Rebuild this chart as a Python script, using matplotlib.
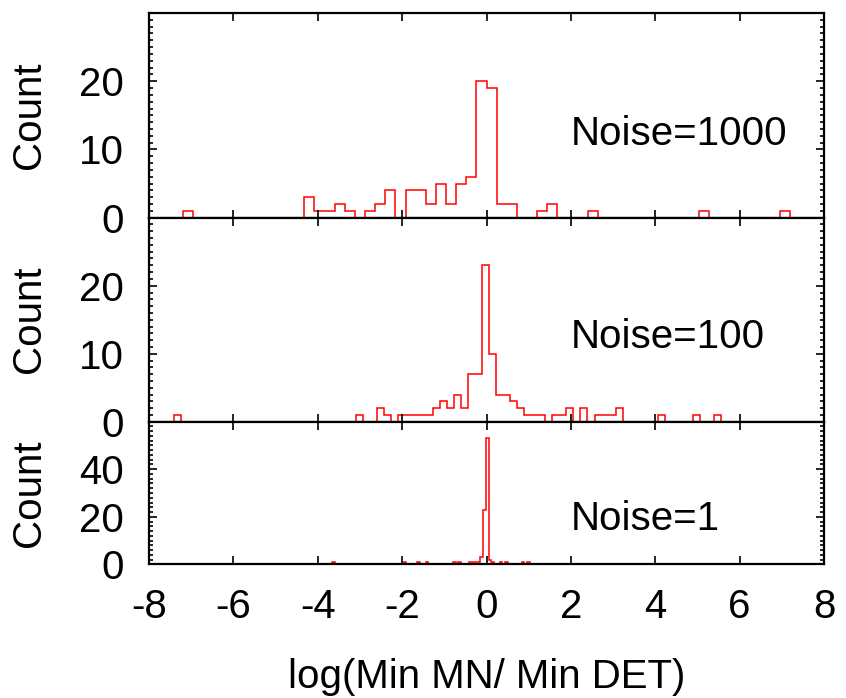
import numpy as np
import matplotlib
matplotlib.use("Agg")
import matplotlib.pyplot as plt

plt.rcParams['font.family'] = ['Liberation Sans', 'DejaVu Sans']
plt.rcParams['axes.unicode_minus'] = False

# ---- data: bin left edges and counts (non-empty bins) ----
# Noise = 1000 (bin width 0.24)
top_left = [-7.20, -4.32, -4.08, -3.84, -3.60, -3.36, -2.88, -2.64, -2.40, -1.92,
            -1.68, -1.44, -1.20, -0.96, -0.72, -0.48, -0.24, 0.00, 0.24, 0.48,
            1.20, 1.44, 2.40, 5.04, 6.96]
top_counts = [1, 3, 1, 1, 2, 1, 1, 2, 4, 4,
              4, 2, 5, 2, 5, 6, 20, 19, 2, 2,
              1, 2, 1, 1, 1]
top_width = 0.24
top_edges_range = (-7.20, 7.20)

# Noise = 100 (bin width 0.166)
mid_left = [-7.400, -3.084, -2.586, -2.420, -2.088, -1.922, -1.756, -1.590, -1.424,
            -1.258, -1.092, -0.926, -0.760, -0.594, -0.428, -0.262, -0.096, 0.070,
            0.236, 0.402, 0.568, 0.734, 0.900, 1.066, 1.232, 1.564, 1.730, 1.896,
            2.228, 2.560, 2.726, 2.892, 3.058, 4.054, 4.884, 5.382]
mid_counts = [1, 1, 2, 1, 1, 1, 1, 1, 1,
              2, 3, 2, 4, 2, 7, 7, 23, 10,
              4, 4, 3, 2, 1, 1, 1, 1, 1, 2,
              2, 1, 1, 1, 2, 1, 1, 1]
mid_width = 0.166
mid_edges_range = (-7.400, 5.548)

# Noise = 1 (bin width 0.065)
bot_left = [-3.655, -1.965, -1.640, -1.445, -0.795, -0.665, -0.405, -0.340, -0.275,
            -0.210, -0.145, -0.080, -0.015, 0.050, 0.115, 0.310, 0.440, 0.830, 0.960]
bot_counts = [1, 1, 1, 1, 1, 1, 1, 1, 1,
              1, 3, 23, 53, 2, 1, 1, 1, 1, 1]
bot_width = 0.065
bot_edges_range = (-3.655, 1.025)

labels = ["Noise=1000", "Noise=100", "Noise=1"]
ylims = [30, 30, 60]
ymajor = [[0, 10, 20], [0, 10, 20], [0, 20, 40]]
yminor_step = [1, 1, 2]
label_y = [10.6, 10.8, 14.5]
xticks = [-8, -6, -4, -2, 0, 2, 4, 6, 8]

W, H = 846, 698
fig = plt.figure(figsize=(W / 100, H / 100), dpi=100)

left = 149 / W
width = 675 / W
rows = [(13, 217.7), (217.7, 421.7), (421.7, 564.3)]

datasets = [
    (top_left, top_counts, top_width, top_edges_range),
    (mid_left, mid_counts, mid_width, mid_edges_range),
    (bot_left, bot_counts, bot_width, bot_edges_range),
]

fs = 29
axes = []
for i, ((t, b), (lefts, counts, w, rng)) in enumerate(zip(rows, datasets)):
    ax = fig.add_axes([left, 1 - b / H, width, (b - t) / H])
    axes.append(ax)
    n = int(round((rng[1] - rng[0]) / w))
    edges = rng[0] + w * np.arange(n + 1)
    centers = np.array(lefts) + w / 2
    ax.hist(centers, bins=edges, weights=counts, histtype='step',
            color='#ff0000', linewidth=1.1, zorder=1)
    ax.set_xlim(-8, 8)
    ax.set_ylim(0, ylims[i])
    ax.set_xticks(xticks)
    ax.set_yticks(ymajor[i])
    ax.set_yticks(np.arange(0, ylims[i] + 0.01, yminor_step[i]), minor=True)
    ax.tick_params(which='both', direction='in', top=True, right=True,
                   width=1.2, colors='black', labelsize=fs)
    ax.tick_params(which='major', length=5.8, pad=18)
    ax.tick_params(which='minor', length=2.8)
    ax.tick_params(axis='x', which='minor', bottom=False, top=False)
    ax.tick_params(axis='x', pad=17)
    for sp in ax.spines.values():
        sp.set_linewidth(1.6)
        sp.set_zorder(3)
    if i < 2:
        ax.tick_params(axis='x', labelbottom=False)
    ax.set_ylabel('Count', fontsize=fs, va='center')
    ax.yaxis.set_label_coords(-0.178, 0.5)
    ax.text(2.0, label_y[i], labels[i], fontsize=fs, ha='left', va='baseline')

axes[-1].set_xlabel('log(Min MN/ Min DET)', fontsize=fs, va='center')
axes[-1].xaxis.set_label_coords(0.5, -0.79)

fig.savefig('out.png', dpi=100)
